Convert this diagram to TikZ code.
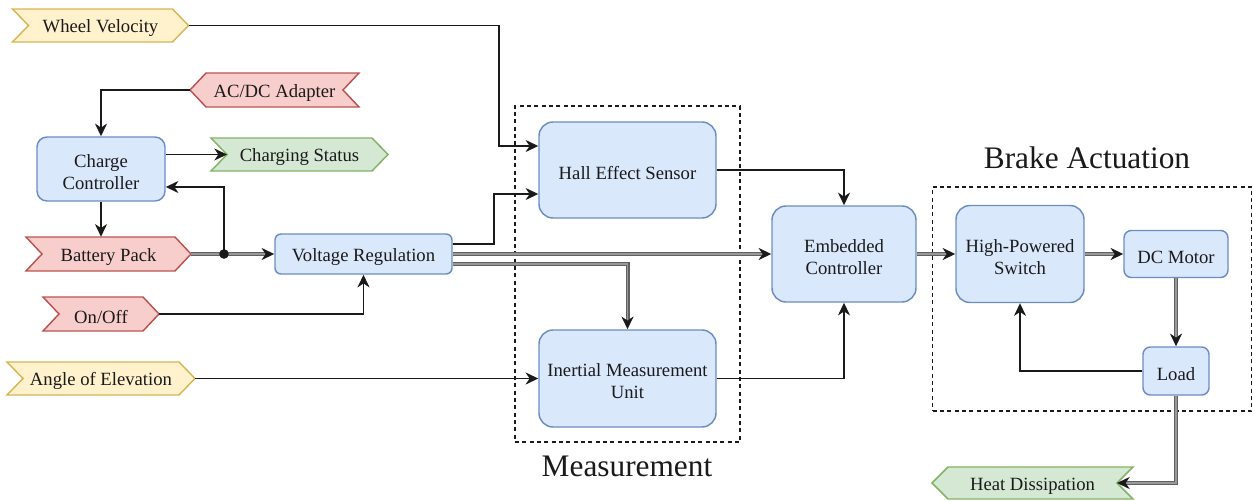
\documentclass[tikz,border=0pt]{standalone}
\usepackage{fontspec}
\setmainfont{Liberation Serif}
\usetikzlibrary{arrows.meta,calc}

\definecolor{bluefill}{HTML}{DAE8FC}
\definecolor{blueline}{HTML}{6C8EBF}
\definecolor{redfill}{HTML}{F8CECC}
\definecolor{redline}{HTML}{B85450}
\definecolor{yelfill}{HTML}{FFF2CC}
\definecolor{yelline}{HTML}{D6B656}
\definecolor{grnfill}{HTML}{D5E8D4}
\definecolor{grnline}{HTML}{82B366}
\definecolor{ink}{HTML}{1A1A1A}

% depth of the notch / point of the signal chevrons (in px units)
\newcommand\chevdepth{16}

% right-pointing chevron: name, cx, cy, width, height, colour prefix, text
\newcommand\chevR[7]{%
  \filldraw[chev,fill=#6fill,draw=#6line]
    ({#2-#4/2},{#3-#5/2}) -- ({#2+#4/2-\chevdepth},{#3-#5/2}) -- ({#2+#4/2},#3)
    -- ({#2+#4/2-\chevdepth},{#3+#5/2}) -- ({#2-#4/2},{#3+#5/2})
    -- ({#2-#4/2+\chevdepth},#3) -- cycle;
  \node[inner sep=0pt,wh={#4}{#5},txt={#7}] (#1) at (#2,#3) {};
  \coordinate (#1-tip) at ({#2+#4/2},#3);
  \coordinate (#1-notch) at ({#2-#4/2+\chevdepth},#3);}

% left-pointing chevron: name, cx, cy, width, height, colour prefix, text
\newcommand\chevL[7]{%
  \filldraw[chev,fill=#6fill,draw=#6line]
    ({#2-#4/2+\chevdepth},{#3-#5/2}) -- ({#2+#4/2},{#3-#5/2}) -- ({#2+#4/2-\chevdepth},#3)
    -- ({#2+#4/2},{#3+#5/2}) -- ({#2-#4/2+\chevdepth},{#3+#5/2})
    -- ({#2-#4/2},#3) -- cycle;
  \node[inner sep=0pt,wh={#4}{#5},txt={#7}] (#1) at (#2,#3) {};
  \coordinate (#1-tip) at ({#2-#4/2},#3);
  \coordinate (#1-notch) at ({#2+#4/2-\chevdepth},#3);}

\begin{document}
\begin{tikzpicture}[
  x=0.75pt, y=-0.75pt,
  wh/.style 2 args={minimum width=#1*0.75pt, minimum height=#2*0.75pt},
  lbl/.style={text=ink, font=\fontsize{14}{16.3}\selectfont, align=center, inner sep=0pt},
  txt/.style={label={[lbl,yshift=-2.2pt]center:{#1}}},
  block/.style={draw=blueline, fill=bluefill, line width=1.1pt, rounded corners=#1, inner sep=0pt},
  chev/.style={line width=1.1pt, line join=miter},
  grp/.style={draw=ink, line width=0.9pt, dash pattern=on 3pt off 2.5pt, inner sep=0pt},
  biglabel/.style={text=ink, font=\fontsize{23.5}{26}\selectfont, inner sep=0pt},
  tip/.style={-{Stealth[length=9.5pt,width=9pt,inset=3pt,color=ink]}},
  thin/.style={draw=ink, line width=1.1pt, tip},
  power/.style={draw=black!40, line width=1.4pt, tip,
    preaction={draw=black!62, line width=3pt, -, shorten >=6pt}},
]
\useasboundingbox (0,0) rectangle (1253,500);

% grouping frames and their titles
\node[grp, wh={225}{336}] (meas) at (627.5,274) {};
\node[biglabel] (measlbl) at (627,466) {Measurement};
\node[grp, wh={319}{224}] (brake) at (1092,299) {};
\node[biglabel] (brakelbl) at (1087,158) {Brake Actuation};

% processing blocks
\node[block=7.5pt, wh={128}{64}, txt={Charge\\Controller}] (cc) at (101,169) {};
\node[block=4.5pt, wh={177}{40}, txt={Voltage Regulation}] (vr) at (363.5,254) {};
\node[block=10.5pt, wh={177}{96}, txt={Hall Effect Sensor}] (hall) at (627.5,170) {};
\node[block=10.5pt, wh={177}{97}, txt={Inertial Measurement\\Unit}] (imu) at (627.5,378.5) {};
\node[block=10.5pt, wh={144}{96}, txt={Embedded\\Controller}] (ec) at (844,254) {};
\node[block=10.5pt, wh={128}{97}, txt={High-Powered\\Switch}] (hps) at (1020,254) {};
\node[block=5.5pt, wh={104}{47}, txt={DC Motor}] (dcm) at (1176,254) {};
\node[block=5.5pt, wh={66}{48}, txt={Load}] (load) at (1176,371) {};

% inputs and outputs
\chevR{wv}{100.5}{25.5}{176}{33}{yel}{Wheel Velocity}
\chevL{acdc}{274.5}{90}{169}{34}{red}{AC/DC Adapter}
\chevR{cs}{299.5}{154.5}{177}{33}{grn}{Charging Status}
\chevR{bat}{108.5}{254}{165}{34}{red}{Battery Pack}
\chevR{onoff}{101}{314}{116}{34}{red}{On/Off}
\chevR{angle}{101}{378.5}{188}{33}{yel}{Angle of Elevation}
\chevL{heat}{1032.5}{483}{201}{32}{grn}{Heat Dissipation}

\coordinate (junc) at (224,254);

% power paths
\draw[power] (bat-tip) -- (vr.west);
\draw[power] (vr.east) -- (ec.west);
\draw[power] ([yshift=-7.5pt]vr.east) -| (imu.north);
\draw[power] (ec.east) -- (hps.west);
\draw[power] (hps.east) -- (dcm.west);
\draw[power] (dcm.south) -- (load.north);
\draw[power] (load.south) |- (heat-notch);

% signal paths
\draw[thin] (acdc-tip) -| (cc.north);
\draw[thin] (cc.east |- cs-notch) -- (cs-notch);
\draw[thin] (cc.south) -- (cc.south |- bat.north);
\draw[thin] (junc) |- ([yshift=-13.5pt]cc.east);
\draw[thin] (onoff-tip) -| (vr.south);
\draw[thin] (wv-tip) -| (499,146) -- ([yshift=18pt]hall.west);
\draw[thin] ([yshift=7.5pt]vr.east) -| (494,194) -- ([yshift=-18pt]hall.west);
\draw[thin] (angle-tip) -- (imu.west);
\draw[thin] (hall.east) -| (ec.north);
\draw[thin] (imu.east) -| (ec.south);
\draw[thin] (load.west) -| (hps.south);

\fill[ink] (junc) circle (3.6pt);
\end{tikzpicture}
\end{document}
